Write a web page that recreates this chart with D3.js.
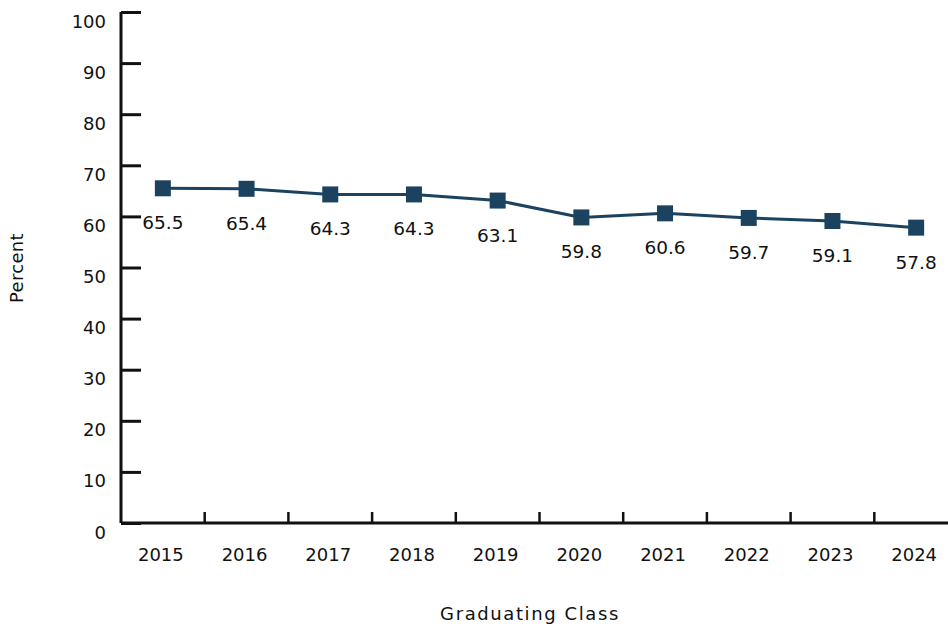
<!DOCTYPE html>
<html><head><meta charset="utf-8">
<script src="https://cdn.jsdelivr.net/npm/d3@7"></script>
<style>body{margin:0;background:#fff}svg{display:block}text{font-family:"DejaVu Sans","Noto Sans",sans-serif;fill:#111}</style>
</head><body>
<svg id="c" width="948" height="630"></svg>
<script>
const years = ["2015","2016","2017","2018","2019","2020","2021","2022","2023","2024"];
const percents = [65.5,65.4,64.3,64.3,63.1,59.8,60.6,59.7,59.1,57.8];
const yTicks = [0,10,20,30,40,50,60,70,80,90,100];

const svg = d3.select("#c");
const x = d3.scaleBand().domain(years).range([121, 958]);
const y = d3.scaleLinear().domain([0,100]).range([523, 12]);
const color = "#1b4360";

// y axis
const ya = svg.append("g").attr("transform","translate(121,0)")
  .call(d3.axisRight(y).tickValues(yTicks).tickSize(20).tickFormat(d3.format("d")));
ya.select(".domain").attr("d","M0,12V523").attr("stroke","#111").attr("stroke-width",3);
ya.selectAll(".tick line").attr("stroke","#111").attr("stroke-width",3);
ya.selectAll(".tick text").attr("x",-15).attr("y",15).attr("dy","0").attr("text-anchor","end")
  .attr("font-size",18).attr("fill","#111");

// x axis
const xa = svg.append("g").attr("transform","translate(0,523)")
  .call(d3.axisBottom(x).tickSize(0));
xa.select(".domain").attr("d","M121,0H958").attr("stroke","#111").attr("stroke-width",3);
xa.selectAll(".tick text").attr("x",-2).attr("y",38).attr("dy","0").attr("font-size",18).attr("fill","#111");
// boundary ticks
xa.selectAll(".btick").data(years.slice(1)).enter().append("line")
  .attr("x1",d=>x(d)).attr("x2",d=>x(d)).attr("y1",0).attr("y2",-11)
  .attr("stroke","#111").attr("stroke-width",2.5);

const cx = d => x(d) + x.bandwidth()/2;

// line
svg.append("path").datum(percents)
  .attr("fill","none").attr("stroke",color).attr("stroke-width",3)
  .attr("d", d3.line().x((d,i)=>cx(years[i])).y(d=>y(d)));

// markers
svg.selectAll(".m").data(percents).enter().append("rect")
  .attr("x",(d,i)=>cx(years[i])-8).attr("y",d=>y(d)-8)
  .attr("width",16).attr("height",16).attr("fill",color);

// labels
svg.selectAll(".lbl").data(percents).enter().append("text")
  .attr("x",(d,i)=>cx(years[i])).attr("y",d=>y(d)+41)
  .attr("text-anchor","middle").attr("font-size",18.5)
  .text(d=>d3.format(".1f")(d));

// titles
svg.append("text").attr("x",530).attr("y",620).attr("text-anchor","middle")
  .attr("font-size",18).attr("letter-spacing",1.6).text("Graduating Class");
svg.append("text").attr("transform","translate(23,268) rotate(-90)")
  .attr("text-anchor","middle").attr("font-size",18).attr("letter-spacing",0.3).text("Percent");
</script>
</body></html>
